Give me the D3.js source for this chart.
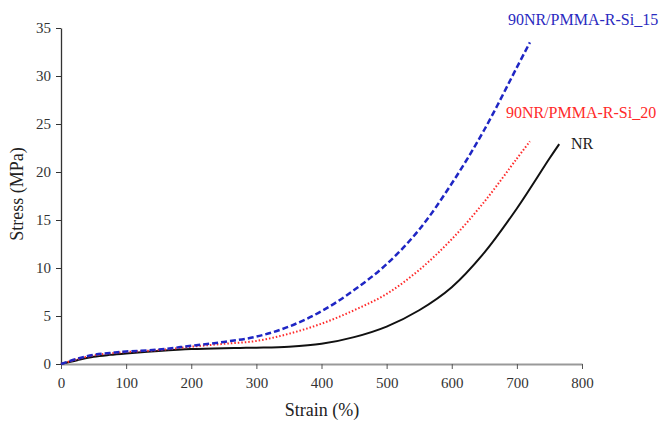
<!DOCTYPE html>
<html>
<head>
<meta charset="utf-8">
<script src="https://cdn.jsdelivr.net/npm/d3@7"></script>
<style>
  body { margin: 0; background: #fff; }
  svg text { font-family: "Liberation Serif", "Times New Roman", serif !important; }
</style>
</head>
<body>
<div class="vis-chart"></div>
<script>
// Strain (%) / Stress (MPa)
const strainPMMA = [0, 25, 50, 75, 100, 150, 200, 250, 300, 350, 400, 450, 500, 550, 600, 650, 700, 720];
const stressSi15 = [0, 0.55, 0.95, 1.15, 1.3, 1.5, 1.9, 2.3, 2.85, 3.9, 5.5, 7.7, 10.4, 14.0, 18.8, 24.4, 30.9, 33.5];
const stressSi20 = [0, 0.5, 0.9, 1.1, 1.25, 1.45, 1.8, 2.1, 2.4, 3.15, 4.2, 5.6, 7.3, 9.8, 13.0, 16.9, 21.4, 23.2];
const strainNR = [0, 25, 50, 75, 100, 150, 200, 250, 300, 350, 400, 450, 500, 550, 600, 650, 700, 750, 765];
const stressNR = [0, 0.4, 0.75, 0.95, 1.1, 1.35, 1.55, 1.65, 1.7, 1.8, 2.1, 2.8, 3.9, 5.6, 8.0, 11.6, 16.2, 21.4, 22.9];
const xTicks = [0, 100, 200, 300, 400, 500, 600, 700, 800];
const yTicks = [0, 5, 10, 15, 20, 25, 30, 35];
const seriesNames = ["90NR/PMMA-R-Si_15", "90NR/PMMA-R-Si_20", "NR"];

const width = 660, height = 423;
const margin = { top: 28, right: 78, bottom: 59, left: 61 };
const innerW = width - margin.left - margin.right;
const innerH = height - margin.top - margin.bottom;

const svg = d3.select(".vis-chart")
    .append("svg")
    .attr("width", width)
    .attr("height", height)
    .append("g")
    .attr("transform", "translate(" + margin.left + "," + margin.top + ")");

const x = d3.scaleLinear().domain([0, 800]).range([0, innerW]);
const y = d3.scaleLinear().domain([0, 35]).range([innerH, 0]);

// axes
const xAxis = svg.append("g")
    .attr("transform", "translate(0," + innerH + ")")
    .call(d3.axisBottom(x).tickValues(xTicks).tickSize(5).tickPadding(8).tickSizeOuter(0));
xAxis.select(".domain").attr("stroke", "#999").attr("stroke-width", 2);
xAxis.selectAll(".tick line").attr("stroke", "#555");

const yAxis = svg.append("g")
    .call(d3.axisLeft(y).tickValues(yTicks).tickSize(5).tickPadding(5).tickSizeOuter(0));
yAxis.select(".domain").attr("stroke", "#333").attr("stroke-width", 1.3);
yAxis.selectAll(".tick line").attr("stroke", "#333");

svg.selectAll(".tick text")
    .style("font-size", "15px")
    .attr("fill", "#333");

// titles
svg.append("text")
    .attr("x", 261)
    .attr("y", innerH + 52)
    .attr("text-anchor", "middle")
    .style("font-size", "18px")
    .attr("fill", "#222")
    .text("Strain (%)");
svg.append("text")
    .attr("transform", "translate(" + (-38) + "," + 166 + ")rotate(-90)")
    .attr("text-anchor", "middle")
    .style("font-size", "18px")
    .attr("fill", "#222")
    .text("Stress (MPa)");

// curves
const line = d3.line()
    .x(d => x(d[0]))
    .y(d => y(d[1]))
    .curve(d3.curveCatmullRom.alpha(0.5));

const curves = [
    { pts: d3.zip(strainNR, stressNR), color: "#111", width: 2, dash: null },
    { pts: d3.zip(strainPMMA, stressSi20), color: "#ff2a2a", width: 2, dash: "1.5,2" },
    { pts: d3.zip(strainPMMA, stressSi15), color: "#1f26c4", width: 2.5, dash: "6,3" }
];

svg.selectAll(".curve")
    .data(curves)
    .enter()
    .append("path")
    .attr("class", "curve")
    .attr("d", d => line(d.pts))
    .attr("fill", "none")
    .attr("stroke", d => d.color)
    .attr("stroke-width", d => d.width)
    .attr("stroke-dasharray", d => d.dash);

// series labels
const labels = [
    { text: seriesNames[0], color: "#2a2ac0", x: 583, y: 25 },
    { text: seriesNames[1], color: "#ff2a2a", x: 581, y: 118 },
    { text: seriesNames[2], color: "#222", x: 582, y: 149 }
];
svg.selectAll(".series-label")
    .data(labels)
    .enter()
    .append("text")
    .attr("class", "series-label")
    .attr("x", d => d.x - margin.left)
    .attr("y", d => d.y - margin.top)
    .attr("text-anchor", "middle")
    .style("font-size", "16px")
    .attr("fill", d => d.color)
    .text(d => d.text);
</script>
</body>
</html>
